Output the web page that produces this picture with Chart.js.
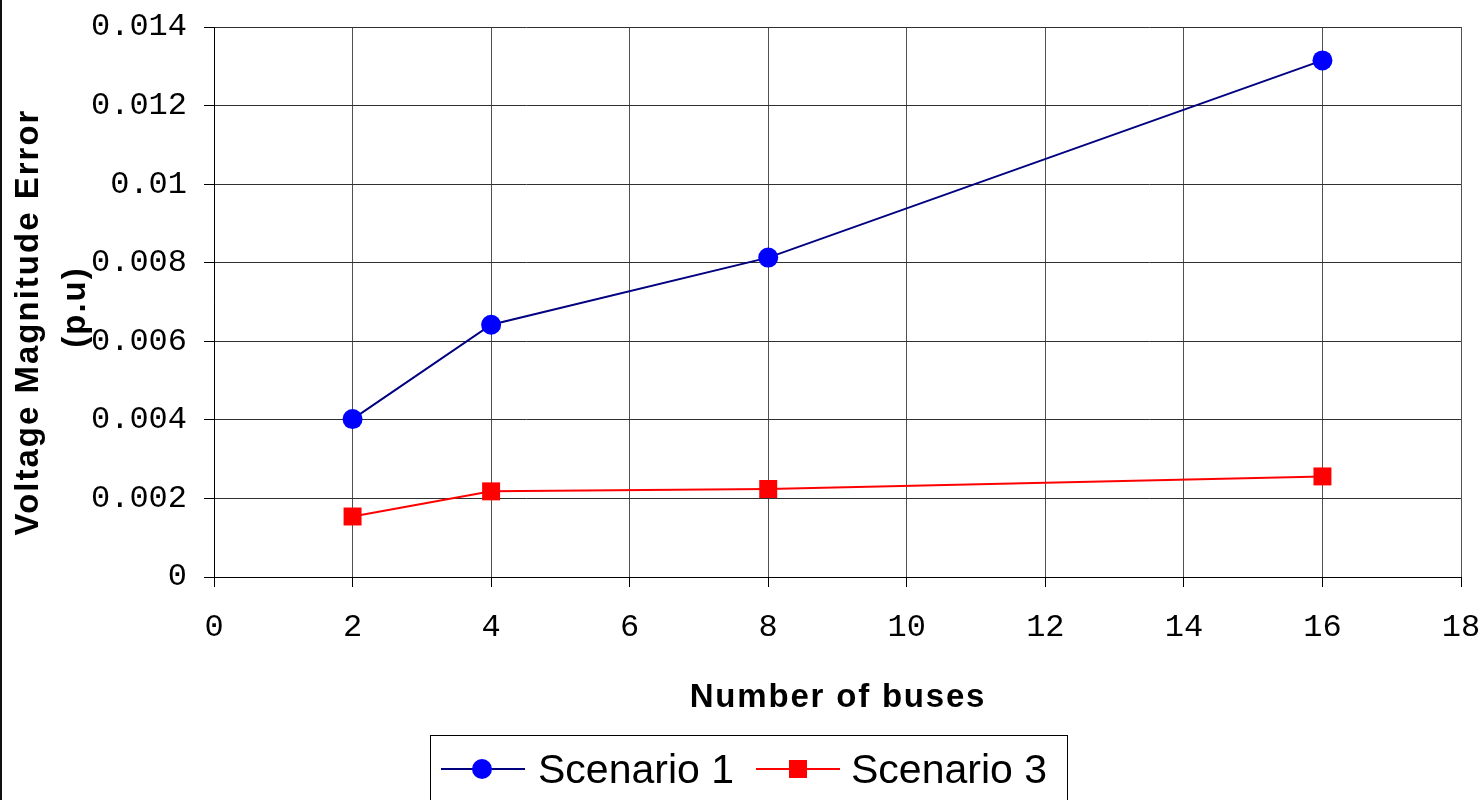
<!DOCTYPE html>
<html>
<head>
<meta charset="utf-8">
<script src="https://cdn.jsdelivr.net/npm/chart.js@4.4.0/dist/chart.umd.min.js"></script>
<style>
  html, body { margin: 0; padding: 0; background: #ffffff; }
  #wrap { width: 1483px; height: 800px; position: relative; }
</style>
</head>
<body>
<div id="wrap"><canvas id="c" width="1483" height="800"></canvas></div>
<script>
// Voltage magnitude error against the number of buses
const busCounts = [2, 4, 8, 16];
const scenario1 = [0.00402, 0.00642, 0.00813, 0.01315];
const scenario3 = [0.00154, 0.00218, 0.00224, 0.00256];
const seriesNames = ['Scenario 1', 'Scenario 3'];
const xTicks = [0, 2, 4, 6, 8, 10, 12, 14, 16, 18];
const yTicks = [0, 0.002, 0.004, 0.006, 0.008, 0.010, 0.012, 0.014];
const yTickLabels = ['0', '0.002', '0.004', '0.006', '0.008', '0.01', '0.012', '0.014'];
const xTitle = 'Number of buses';
const yTitleLines = ['Voltage Magnitude Error', '(p.u)'];

const toPoints = (xs, ys) => xs.map((x, i) => ({ x: x, y: ys[i] }));

// Axis titles, legend box and outer frame
const decorations = {
  id: 'decorations',
  afterDraw(chart) {
    const ctx = chart.ctx;
    ctx.save();

    // outer frame edge on the left
    ctx.fillStyle = '#111111';
    ctx.fillRect(0, 0, 2, 800);

    ctx.fillStyle = '#000000';
    ctx.font = 'bold 33px "Liberation Sans", Arial, sans-serif';
    ctx.textBaseline = 'alphabetic';
    ctx.textAlign = 'center';
    try { ctx.letterSpacing = '1.8px'; } catch (e) {}
    ctx.fillText(xTitle, 838, 707);

    try { ctx.letterSpacing = '2px'; } catch (e) {}
    const yPos = [[38, 322], [85, 307]];
    yTitleLines.forEach((line, i) => {
      ctx.save();
      ctx.translate(yPos[i][0], yPos[i][1]);
      ctx.rotate(-Math.PI / 2);
      ctx.fillText(line, 0, 0);
      ctx.restore();
    });
    try { ctx.letterSpacing = '0px'; } catch (e) {}

    // legend
    ctx.strokeStyle = '#000000';
    ctx.lineWidth = 1;
    ctx.strokeRect(430.5, 735.5, 637, 100);

    const items = [
      { x0: 441, x1: 525, mx: 482, tx: 538 },
      { x0: 756, x1: 840, mx: 798, tx: 851 }
    ];
    const ly = 769;
    chart.data.datasets.forEach((ds, i) => {
      const it = items[i];
      ctx.strokeStyle = ds.borderColor;
      ctx.lineWidth = 2;
      ctx.beginPath();
      ctx.moveTo(it.x0, ly);
      ctx.lineTo(it.x1, ly);
      ctx.stroke();
      ctx.fillStyle = ds.pointBackgroundColor;
      if (ds.pointStyle === 'circle') {
        ctx.beginPath();
        ctx.arc(it.mx, ly, 10, 0, Math.PI * 2);
        ctx.fill();
      } else {
        ctx.fillRect(it.mx - 9, ly - 9, 18, 18);
      }
      ctx.fillStyle = '#000000';
      ctx.font = '41px "Liberation Sans", Arial, sans-serif';
      ctx.textAlign = 'left';
      ctx.textBaseline = 'alphabetic';
      ctx.fillText(ds.label, it.tx, 783);
    });

    ctx.restore();
  }
};

const tickFont = { family: '"Liberation Mono", "DejaVu Sans Mono", monospace', size: 32 };

new Chart(document.getElementById('c'), {
  type: 'line',
  data: {
    datasets: [
      {
        label: seriesNames[0],
        data: toPoints(busCounts, scenario1),
        borderColor: '#000080',
        borderWidth: 2,
        pointStyle: 'circle',
        pointRadius: 10,
        pointBorderWidth: 0,
        pointBackgroundColor: '#0000ff',
        tension: 0,
        clip: false
      },
      {
        label: seriesNames[1],
        data: toPoints(busCounts, scenario3),
        borderColor: '#ff0000',
        borderWidth: 2,
        pointStyle: 'rect',
        pointRadius: 12.7,
        pointBorderWidth: 0,
        pointBackgroundColor: '#ff0000',
        tension: 0,
        clip: false
      }
    ]
  },
  options: {
    responsive: false,
    animation: false,
    devicePixelRatio: 1,
    layout: { padding: { top: 27, right: 22, left: 0, bottom: 0 } },
    plugins: {
      legend: { display: false },
      tooltip: { enabled: false },
      title: { display: false }
    },
    elements: { line: { fill: false } },
    scales: {
      x: {
        type: 'linear',
        min: 0,
        max: 18,
        afterBuildTicks: (scale) => { scale.ticks = xTicks.map(v => ({ value: v })); },
        afterFit: (scale) => {
          scale.height = 223;
          scale.paddingLeft = 0;
          scale.paddingRight = 0;
        },
        ticks: {
          font: tickFont,
          color: '#000000',
          padding: 21,
          maxRotation: 0,
          autoSkip: false,
          callback: (v) => String(v)
        },
        grid: {
          color: '#505050',
          lineWidth: 1,
          tickLength: 10,
          tickColor: '#000000'
        },
        border: { display: true, color: '#000000', width: 1 }
      },
      y: {
        type: 'linear',
        min: 0,
        max: 0.014,
        afterBuildTicks: (scale) => { scale.ticks = yTicks.map(v => ({ value: v })); },
        afterFit: (scale) => {
          scale.width = 214;
          scale.paddingTop = 0;
          scale.paddingBottom = 0;
        },
        ticks: {
          font: tickFont,
          color: '#000000',
          padding: 17,
          autoSkip: false,
          callback: (v, i) => yTickLabels[i]
        },
        grid: {
          color: '#303030',
          lineWidth: 1,
          tickLength: 10,
          tickColor: '#000000'
        },
        border: { display: true, color: '#000000', width: 1 }
      }
    }
  },
  plugins: [decorations]
});
</script>
</body>
</html>
